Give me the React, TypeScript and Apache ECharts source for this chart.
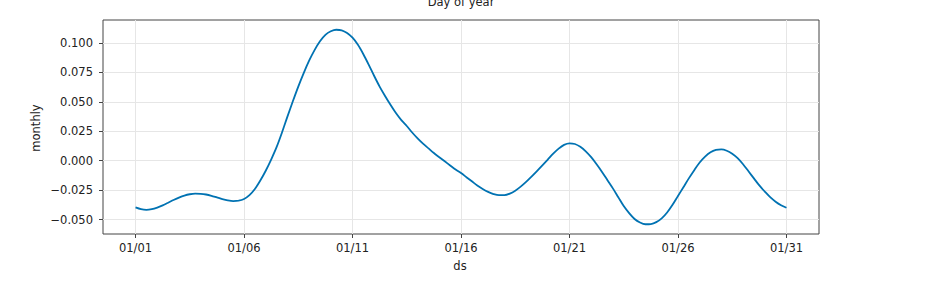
import React, { useEffect, useRef } from "react";
import * as echarts from "echarts";

// Day offsets from 01/01 (quarter-day steps) and the "monthly" component values
const days = Array.from({ length: 121 }, (_, i) => i / 4);
const monthly = [
  -0.0397, -0.0412, -0.0418, -0.0412, -0.0398, -0.0379, -0.0357, -0.0334, -0.0313, -0.0296,
  -0.0285, -0.028, -0.0281, -0.0287, -0.0298, -0.0312, -0.0326, -0.0337, -0.0343, -0.034,
  -0.0325, -0.0292, -0.0240, -0.0168, -0.0085, 0.001, 0.0115, 0.024, 0.0375, 0.0505,
  0.063, 0.0745, 0.085, 0.094, 0.1015, 0.107, 0.11, 0.1113, 0.1108, 0.1085,
  0.1045, 0.0985, 0.0905, 0.0815, 0.072, 0.063, 0.055, 0.0475, 0.0405, 0.0345,
  0.0295, 0.024, 0.019, 0.0145, 0.0105, 0.0065, 0.003, -0.0005, -0.004, -0.0075,
  -0.0105, -0.014, -0.0175, -0.021, -0.024, -0.0265, -0.0283, -0.0293, -0.0293, -0.028,
  -0.0255, -0.022, -0.018, -0.0135, -0.0088, -0.004, 0.001, 0.006, 0.0103, 0.0135,
  0.0148, 0.0142, 0.0118, 0.008, 0.003, -0.003, -0.0095, -0.0165, -0.0235, -0.031,
  -0.0385, -0.0445, -0.0495, -0.0525, -0.054, -0.0538, -0.0522, -0.049, -0.044, -0.0375,
  -0.03, -0.0225, -0.015, -0.008, -0.0015, 0.0035, 0.0072, 0.0092, 0.0096, 0.0085,
  0.006, 0.0022, -0.003, -0.009, -0.015, -0.021, -0.0262, -0.031, -0.0348, -0.0378,
  -0.04,
];

const xTickValues = [0, 5, 10, 15, 20, 25, 30];
const xTickLabels = ["01/01", "01/06", "01/11", "01/16", "01/21", "01/26", "01/31"];
const yTickValues = [-0.05, -0.025, 0, 0.025, 0.05, 0.075, 0.1];

const FONT = "DejaVu Sans";
const TXT = "#222";
const GRIDC = "#e6e6e6";
const SPINE = "#444";

export default function App() {
  const ref = useRef<HTMLDivElement>(null);
  useEffect(() => {
    if (!ref.current) return;
    const chart = echarts.init(ref.current, undefined, { renderer: "svg" });
    const vmin = Math.min(...monthly);
    const vmax = Math.max(...monthly);
    const pad = (vmax - vmin) * 0.05;
    const option: any = {
      animation: false,
      backgroundColor: "#ffffff",
      grid: {
        left: 103,
        right: 109,
        top: 20,
        bottom: 47,
        show: true,
        borderColor: SPINE,
        borderWidth: 1,
        containLabel: false,
      },
      xAxis: {
        type: "value",
        min: -1.5,
        max: 31.5,
        axisLine: { show: false, onZero: false },
        axisTick: {
          show: true,
          customValues: xTickValues,
          length: 4,
          lineStyle: { color: SPINE, width: 1 },
        },
        axisLabel: {
          customValues: xTickValues,
          margin: 8,
          fontFamily: FONT,
          fontSize: 11.5,
          color: TXT,
          formatter: (v: number) => {
            const i = xTickValues.indexOf(Math.round(v));
            return i >= 0 ? xTickLabels[i] : "";
          },
        },
        splitLine: { show: true, lineStyle: { color: GRIDC, width: 1 } },
      },
      yAxis: {
        type: "value",
        min: vmin - pad,
        max: vmax + pad,
        axisLine: { show: false, onZero: false },
        axisTick: {
          show: true,
          customValues: yTickValues,
          length: 4,
          lineStyle: { color: SPINE, width: 1 },
        },
        axisLabel: {
          customValues: yTickValues,
          margin: 10,
          fontFamily: FONT,
          fontSize: 11.5,
          color: TXT,
          formatter: (v: number) => v.toFixed(3).replace("-", "\u2212"),
        },
        splitLine: { show: true, lineStyle: { color: GRIDC, width: 1 } },
      },
      graphic: [
        {
          type: "text",
          x: 461,
          y: 1.5,
          style: {
            text: "Day of year",
            fontFamily: FONT,
            fontSize: 11.5,
            fill: TXT,
            textAlign: "center",
            textVerticalAlign: "middle",
          },
        },
        {
          type: "text",
          x: 460,
          y: 266,
          style: {
            text: "ds",
            fontFamily: FONT,
            fontSize: 11.5,
            fill: TXT,
            textAlign: "center",
            textVerticalAlign: "middle",
          },
        },
        {
          type: "text",
          x: 36,
          y: 128,
          rotation: Math.PI / 2,
          style: {
            text: "monthly",
            fontFamily: FONT,
            fontSize: 11.5,
            fill: TXT,
            textAlign: "center",
            textVerticalAlign: "middle",
          },
        },
      ],
      series: [
        {
          type: "line",
          data: days.map((d, i) => [d, monthly[i]]),
          smooth: 0.3,
          showSymbol: false,
          lineStyle: { color: "#0072B2", width: 1.8 },
          z: 3,
        },
      ],
    };
    chart.setOption(option);
    return () => chart.dispose();
  }, []);
  return (
    <div
      ref={ref}
      style={{ position: "fixed", left: 0, top: 0, width: 928, height: 281 }}
    />
  );
}
